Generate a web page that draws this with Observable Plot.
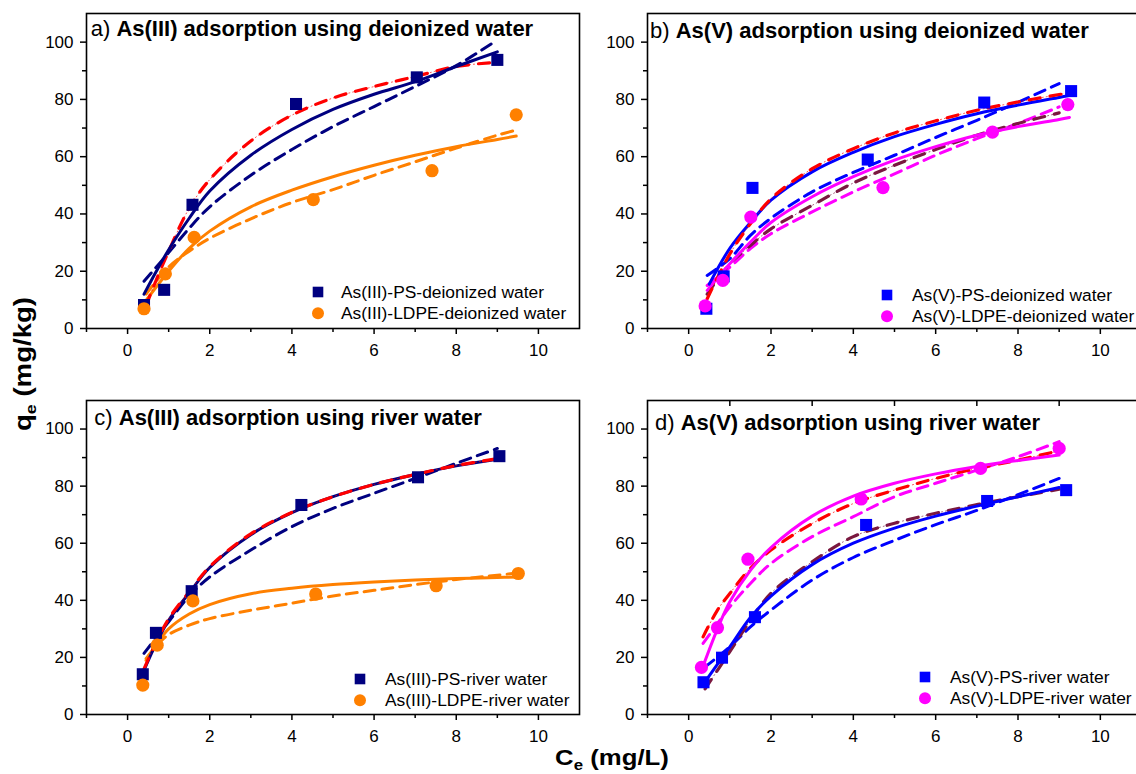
<!DOCTYPE html>
<html>
<head>
<meta charset="utf-8">
<script src="https://cdn.jsdelivr.net/npm/d3@7"></script>
<script src="https://cdn.jsdelivr.net/npm/@observablehq/plot@0.6"></script>
<style>
  html, body { margin: 0; padding: 0; background: #fff; overflow: hidden; }
  #root { position: relative; width: 1136px; height: 774px; overflow: hidden; font-family: 'Liberation Sans', Arial, Helvetica, sans-serif; }
  .panel { position: absolute; }
  #overlay { position: absolute; left: 0; top: 0; pointer-events: none; }
</style>
</head>
<body>
<div id="root"></div>
<script>
// ---------- axis ticks ----------
const xMajorTicks = [0, 2, 4, 6, 8, 10];
const xMinorTicks = [-1, 1, 3, 5, 7, 9];
const yMajorTicks = [0, 20, 40, 60, 80, 100];
const yMinorTicks = [10, 30, 50, 70, 90];

// ---------- panel a : As(III), deionized water ----------
const aPS   = [[0.4,8.2],[0.89,13.5],[1.58,43.2],[4.1,78.4],[7.04,87.7],[9.0,93.8]];
const aLDPE = [[0.4,6.9],[0.92,19.1],[1.62,31.8],[4.52,45.0],[7.41,55.1],[9.46,74.6]];
const aPS_solid  = [[0.4,12],[0.7,20],[1,27.5],[1.5,38.5],[2,48],[3,60.5],[4,69.5],[5,76.5],[6,81.8],[7,86.2],[8,91.5],[9,96.6]];
const aPS_dash   = [[0.4,16.5],[1,26.5],[1.5,35],[2,42.5],[3,53.5],[4,62.5],[5,70.5],[6,77.5],[7,84.5],[8,91.8],[8.9,99.8]];
const aPS_dashdot= [[0.45,8],[0.7,17],[1,27],[1.5,42],[2,52],[3,65.5],[4,74.5],[5,80.5],[6,84.5],[7,88],[8,91.5],[9,93]];
const aLDPE_solid= [[0.45,9.8],[1,20],[1.5,28],[2,34],[3,42.5],[4,48.3],[5,53],[6,57],[7,60.5],[8,63.5],[9,66],[9.46,67.2]];
const aLDPE_dash = [[0.45,12],[1,21.5],[1.5,27],[2,31.5],[3,38.3],[4,44],[5,48.5],[6,53.5],[7,58.2],[8,63],[9,67.5],[9.46,69.3]];

// ---------- panel b : As(V), deionized water ----------
const bPS   = [[0.43,6.9],[0.85,18.2],[1.55,49.1],[4.35,59.0],[7.18,78.9],[9.29,82.9]];
const bLDPE = [[0.40,7.9],[0.83,16.8],[1.51,38.9],[4.72,49.2],[7.38,68.6],[9.21,78.2]];
const bPS_solid   = [[0.5,15.5],[1,28],[1.5,37],[2,44.8],[3,54.7],[4,61.5],[5,67],[6,71.3],[7,75],[8,78],[9,80.7],[9.3,81.5]];
const bPS_dash    = [[0.45,18.5],[1,24.4],[1.5,32.5],[2,38.5],[3,47.7],[4,54.5],[5,60.5],[6,66.7],[7,72.7],[8,79],[9,85.5]];
const bPS_dashdot = [[0.45,10.4],[1,26],[1.5,36.6],[2,45.3],[3,55.8],[4,62.8],[5,68.3],[6,72.5],[7,76.2],[8,79.1],[9,81.7],[9.3,82.3]];
const bLDPE_solid = [[0.45,13.3],[1,22.6],[1.5,30.2],[2,37],[3,46],[4,53],[5,58.8],[6,63.5],[7,67.5],[8,70.5],[9,73],[9.25,73.7]];
const bLDPE_dash  = [[0.45,15],[1,21.4],[1.5,27.9],[2,33.1],[3,40.7],[4,47.7],[5,54],[6,60.5],[7,66.3],[8,71.6],[9,77.4]];
const bLDPE_dashdot=[[0.45,12],[1,22.6],[1.5,29],[2,34.8],[3,43],[4,50.8],[5,57],[6,62.5],[7,67.5],[8,71.6],[9,75.3]];

// ---------- panel c : As(III), river water ----------
const cPS   = [[0.37,14.1],[0.69,28.6],[1.56,43.2],[4.23,73.4],[7.07,83.1],[9.05,90.5]];
const cLDPE = [[0.37,10.3],[0.72,24.3],[1.59,39.8],[4.58,42.2],[7.51,45.1],[9.51,49.4]];
const cPS_solid   = [[0.4,15.5],[0.7,25],[1,33],[1.5,42.6],[2,51.5],[3,63],[4,70.7],[5,76.3],[6,80.6],[7,84.1],[8,87.1],[9,89.4]];
const cPS_dash    = [[0.4,21.4],[0.7,27],[1,32.5],[1.5,41.5],[2,48.2],[3,57.6],[4,65.8],[5,72.2],[6,77.5],[7,82.7],[8,88],[9,93.2]];
const cPS_dashdot = [[0.4,16],[0.7,25.5],[1,33.5],[1.5,43],[2,51.8],[3,63.3],[4,70.8],[5,76.3],[6,80.6],[7,84.1],[8,87.2],[9,89.6]];
const cLDPE_solid = [[0.45,19],[0.7,24.5],[1,30],[1.5,35.2],[2,38.5],[3,42.3],[4,44.2],[5,45.5],[6,46.4],[7,47.1],[8,47.6],[9,48],[9.5,48.2]];
const cLDPE_dash  = [[0.45,19.6],[0.7,24],[1,28],[1.5,31.3],[2,33.6],[3,36.5],[4,39],[5,41.5],[6,43.5],[7,45.5],[8,47.3],[9,48.8],[9.5,49.6]];

// ---------- panel d : As(V), river water ----------
const dPS   = [[0.36,11.3],[0.81,19.9],[1.61,34.1],[4.31,66.4],[7.25,74.8],[9.17,78.6]];
const dLDPE = [[0.31,16.5],[0.70,30.4],[1.44,54.4],[4.19,75.5],[7.09,86.2],[9.0,93.2]];
const dPS_solid   = [[0.4,11.5],[1,23.7],[1.5,34],[2,41.5],[3,52.5],[4,60],[5,65.3],[6,69.5],[7,73],[8,76.3],[9,79.5]];
const dPS_dash    = [[0.4,16.7],[1,23.7],[1.5,30.7],[2,36.6],[3,47.1],[4,55],[5,61],[6,66.5],[7,71.5],[8,77],[9,82.7]];
const dPS_dashdot = [[0.4,9],[1,22],[1.5,33],[2,42.5],[3,53.5],[4,62.3],[5,67],[6,70.5],[7,73.5],[8,76.3],[9,78.9]];
const dLDPE_solid = [[0.3,15],[0.7,30],[1,39.5],[1.5,50.5],[2,58.5],[3,69.5],[4,76.5],[5,81],[6,84.3],[7,86.9],[8,89],[9,90.9]];
const dLDPE_dash  = [[0.35,24.9],[0.7,31.9],[1,37.7],[1.5,45.9],[2,52.9],[3,62.3],[4,69.3],[5,76.3],[6,81],[7,85.6],[8,90.3],[9,95.6]];
const dLDPE_dashdot=[[0.35,27.2],[0.7,36.6],[1,42.4],[1.5,51.2],[2,57.6],[3,66.9],[4,73.9],[5,78.6],[6,82.7],[7,86.2],[8,89.1],[9,92.4]];

// ---------- labels ----------
const panelLetters = ["a)", "b)", "c)", "d)"];
const panelTitles = [
  "As(III) adsorption using deionized water",
  "As(V) adsorption using deionized water",
  "As(III) adsorption using river water",
  "As(V) adsorption using river water"
];
const legendNames = [
  ["As(III)-PS-deionized water", "As(III)-LDPE-deionized water"],
  ["As(V)-PS-deionized water", "As(V)-LDPE-deionized water"],
  ["As(III)-PS-river water", "As(III)-LDPE-river water"],
  ["As(V)-PS-river water", "As(V)-LDPE-river water"]
];

// ---------- colours ----------
const NAVY = "#000080", ORANGE = "#ff8000", BLUE = "#0000ff", MAGENTA = "#ff00ff", RED = "#ff0000", WINE = "#7a1840";

const FONT = "'Liberation Sans', Arial, Helvetica, sans-serif";

const panels = [
  { left: 0,   top: 0,   w: 600, h: 365, ml: 86, mr: 21, mt: 13, mb: 37, topTicks: false,
    ps: aPS, ldpe: aLDPE, psColor: NAVY, ldpeColor: ORANGE,
    lines: [
      {d: aLDPE_dash, c: ORANGE, k: "dash"}, {d: aLDPE_solid, c: ORANGE, k: "solid"},
      {d: aPS_dash, c: NAVY, k: "dash"}, {d: aPS_dashdot, c: RED, k: "dashdot"}, {d: aPS_solid, c: NAVY, k: "solid"}
    ],
    title: [90.7, 36], legend: [318, 292, 341] },
  { left: 560, top: 0,   w: 600, h: 365, ml: 87, mr: 19, mt: 13, mb: 37, topTicks: false,
    ps: bPS, ldpe: bLDPE, psColor: BLUE, ldpeColor: MAGENTA,
    lines: [
      {d: bLDPE_dash, c: MAGENTA, k: "dash"}, {d: bLDPE_dashdot, c: WINE, k: "dashdot"}, {d: bLDPE_solid, c: MAGENTA, k: "solid"},
      {d: bPS_dash, c: BLUE, k: "dash"}, {d: bPS_solid, c: BLUE, k: "solid"}, {d: bPS_dashdot, c: RED, k: "dashdot"}
    ],
    title: [650, 38], legend: [887, 295, 912] },
  { left: 0,   top: 380, w: 600, h: 370, ml: 86, mr: 21, mt: 20, mb: 36, topTicks: false,
    ps: cPS, ldpe: cLDPE, psColor: NAVY, ldpeColor: ORANGE,
    lines: [
      {d: cLDPE_dash, c: ORANGE, k: "dash"}, {d: cLDPE_solid, c: ORANGE, k: "solid"},
      {d: cPS_dash, c: NAVY, k: "dash"}, {d: cPS_solid, c: NAVY, k: "solid"}, {d: cPS_dashdot, c: RED, k: "dashdot"}
    ],
    title: [94.3, 425], legend: [360, 679, 385] },
  { left: 560, top: 380, w: 600, h: 370, ml: 87, mr: 19, mt: 20, mb: 36, topTicks: true,
    ps: dPS, ldpe: dLDPE, psColor: BLUE, ldpeColor: MAGENTA,
    lines: [
      {d: dPS_dash, c: BLUE, k: "dash"}, {d: dPS_dashdot, c: WINE, k: "dashdot"}, {d: dPS_solid, c: BLUE, k: "solid"},
      {d: dLDPE_dash, c: MAGENTA, k: "dash"}, {d: dLDPE_dashdot, c: RED, k: "dashdot"}, {d: dLDPE_solid, c: MAGENTA, k: "solid"}
    ],
    title: [655, 429.5], legend: [925, 677, 950] }
];

const root = document.getElementById("root");

function lineMarks(L) {
  const base = {x: d => d[0], y: d => d[1], stroke: L.c, curve: "catmull-rom"};
  if (L.k === "solid") return [Plot.line(L.d, {...base, strokeWidth: 3})];
  if (L.k === "dash") return [Plot.line(L.d, {...base, strokeWidth: 3, strokeDasharray: "11,7"})];
  return [
    Plot.line(L.d, {...base, strokeWidth: 1, strokeDasharray: "1,3", strokeOpacity: 0.7}),
    Plot.line(L.d, {...base, strokeWidth: 3.2, strokeDasharray: "11,10"})
  ];
}

panels.forEach((p, i) => {
  const marks = [
    Plot.axisX({ticks: xMajorTicks, tickSize: 6, tickPadding: 9, label: null, strokeWidth: 1.5}),
    Plot.axisX({ticks: xMinorTicks, tickSize: 4, tickFormat: () => "", label: null, strokeWidth: 1.5}),
    Plot.axisY({ticks: yMajorTicks, tickSize: 6, tickPadding: 7, label: null, strokeWidth: 1.5}),
    Plot.axisY({ticks: yMinorTicks, tickSize: 4, tickFormat: () => "", label: null, strokeWidth: 1.5}),
  ];
  if (p.topTicks) marks.push(Plot.axisX({anchor: "top", ticks: xMinorTicks.filter(v => v > 0), tickSize: -5, tickFormat: () => "", label: null, strokeWidth: 1.5}));
  p.lines.forEach(L => marks.push(...lineMarks(L)));
  marks.push(Plot.dot(p.ps, {x: d => d[0], y: d => d[1], symbol: "square", r: 6.8, fill: p.psColor, stroke: "none"}));
  marks.push(Plot.dot(p.ldpe, {x: d => d[0], y: d => d[1], symbol: "circle", r: 6.6, fill: p.ldpeColor, stroke: "none"}));
  marks.push(Plot.frame({stroke: "black", strokeWidth: 1.6}));

  const svg = Plot.plot({
    width: p.w, height: p.h,
    marginLeft: p.ml, marginRight: p.mr, marginTop: p.mt, marginBottom: p.mb,
    x: {domain: [-1, 11]},
    y: {domain: [0, 110]},
    style: {fontFamily: FONT, fontSize: "17px", color: "black", background: "transparent", overflow: "visible"},
    marks
  });
  svg.classList.add("panel");
  svg.style.left = p.left + "px";
  svg.style.top = p.top + "px";
  root.appendChild(svg);
});

// ---------- overlay with titles, legends, axis titles ----------
const NS = "http://www.w3.org/2000/svg";
const ov = document.createElementNS(NS, "svg");
ov.setAttribute("id", "overlay");
ov.setAttribute("width", 1136);
ov.setAttribute("height", 774);
ov.setAttribute("font-family", FONT);
root.appendChild(ov);

function el(tag, attrs, parent) {
  const e = document.createElementNS(NS, tag);
  for (const k in attrs) e.setAttribute(k, attrs[k]);
  (parent || ov).appendChild(e);
  return e;
}

panels.forEach((p, i) => {
  const t = el("text", {x: p.title[0], y: p.title[1], "font-size": 22, fill: "black"});
  const t1 = el("tspan", {"font-weight": "normal"}, t); t1.textContent = panelLetters[i] + " ";
  const t2 = el("tspan", {"font-weight": "bold"}, t); t2.textContent = panelTitles[i];

  const [sx, sy, tx] = p.legend;
  el("rect", {x: sx - 5.3, y: sy - 5.3, width: 10.6, height: 10.6, fill: p.psColor});
  el("circle", {cx: sx, cy: sy + 21.3, r: 6, fill: p.ldpeColor});
  const l1 = el("text", {x: tx, y: sy + 6, "font-size": 17.4, fill: "black"}); l1.textContent = legendNames[i][0];
  const l2 = el("text", {x: tx, y: sy + 27.3, "font-size": 17.4, fill: "black"}); l2.textContent = legendNames[i][1];
});

// y axis title
const yt = el("text", {transform: "translate(31,364) rotate(-90) scale(1.15,1)", "text-anchor": "middle", "font-size": 24, "font-weight": "bold", fill: "black"});
const yq = el("tspan", {}, yt); yq.textContent = "q";
const ye = el("tspan", {"font-size": 15.5, dy: 5}, yt); ye.textContent = "e";
const yr = el("tspan", {dy: -5}, yt); yr.textContent = " (mg/kg)";

// x axis title
const xt = el("text", {transform: "translate(612,765) scale(1.12,1)", "text-anchor": "middle", "font-size": 23, "font-weight": "bold", fill: "black"});
const xc = el("tspan", {}, xt); xc.textContent = "C";
const xe = el("tspan", {"font-size": 15, dy: 5}, xt); xe.textContent = "e";
const xr = el("tspan", {dy: -5}, xt); xr.textContent = " (mg/L)";
</script>
</body>
</html>
